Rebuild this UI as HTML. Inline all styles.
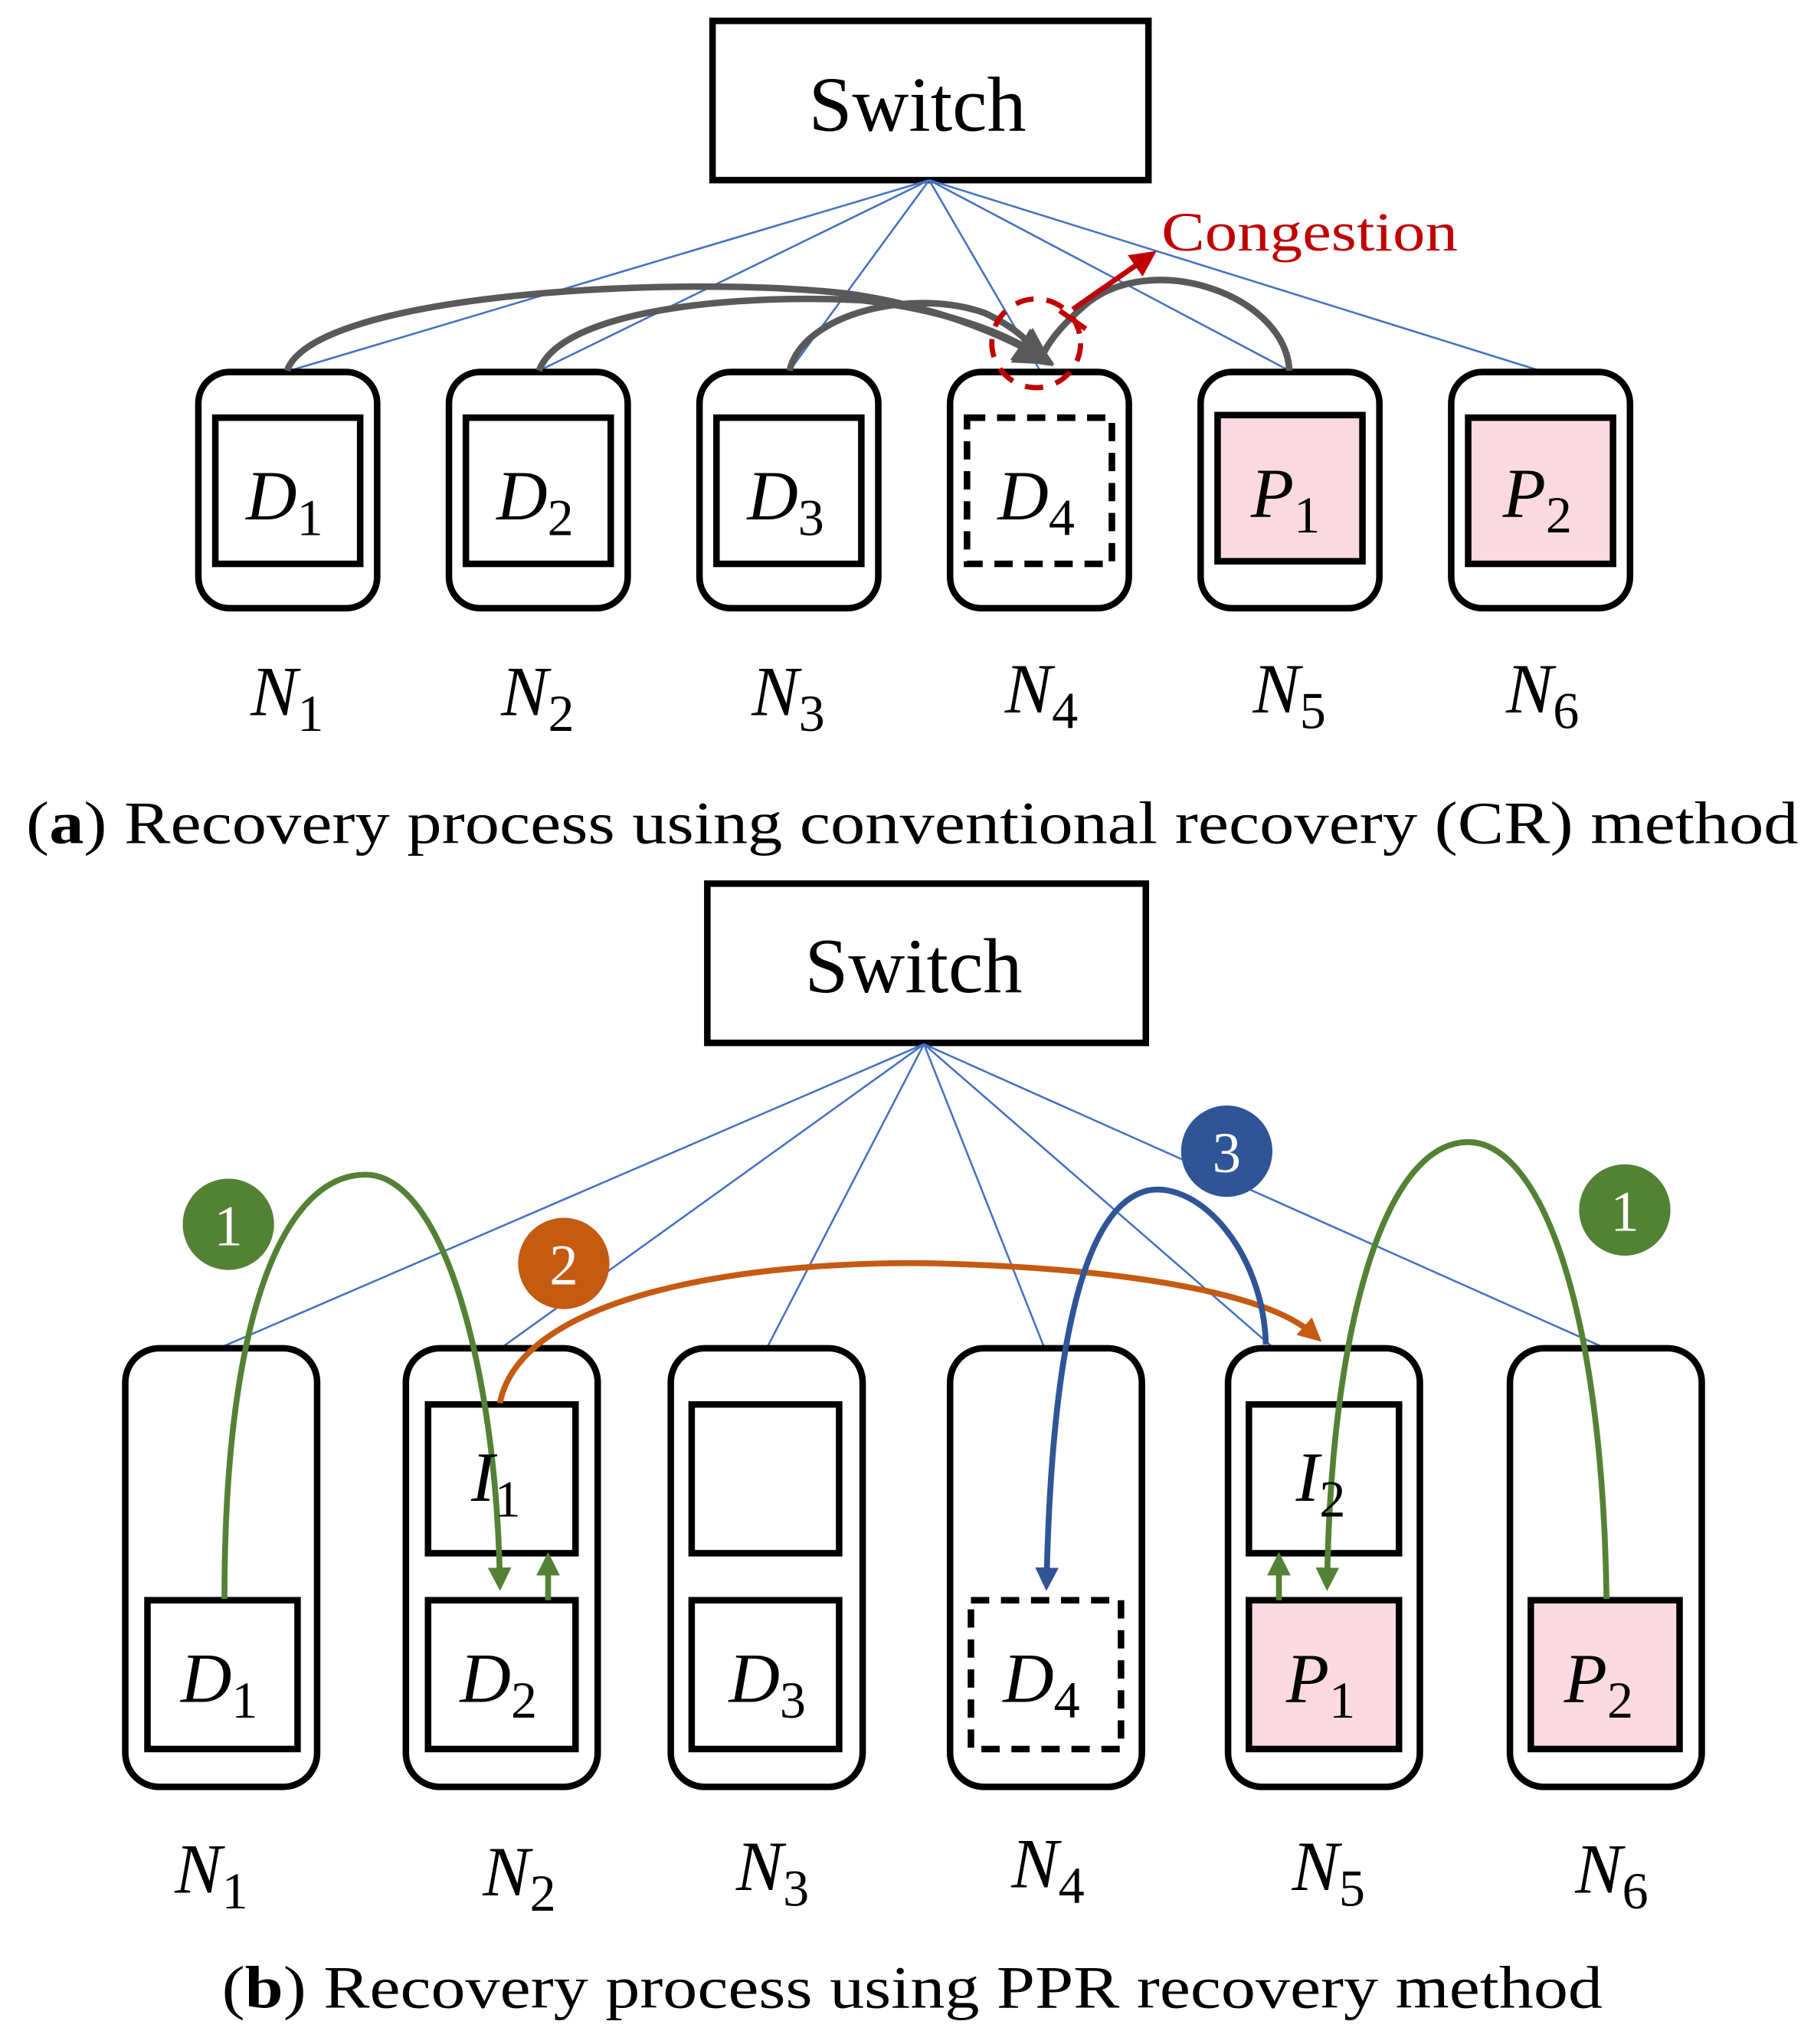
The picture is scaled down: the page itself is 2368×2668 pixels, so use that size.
<!DOCTYPE html>
<html><head><meta charset="utf-8"><style>
html,body{margin:0;padding:0;background:#fff;}
svg{display:block;}
text{font-family:"Liberation Serif",serif;}
.m{font-style:italic;font-size:54px;}
.s{font-style:normal;font-size:40px;}
</style></head><body>
<svg width="2368" height="2668" viewBox="0 0 1390 1566" preserveAspectRatio="none" xmlns="http://www.w3.org/2000/svg">
<defs>
<marker id="ag" markerWidth="6" markerHeight="6" refX="3" refY="3" orient="auto" markerUnits="strokeWidth"><path d="M0,0 L6,3 L0,6 Z" fill="#595959"/></marker>
<marker id="ar" markerWidth="5" markerHeight="5" refX="2.5" refY="2.5" orient="auto" markerUnits="strokeWidth"><path d="M0,0 L5,2.5 L0,5 Z" fill="#c00000"/></marker>
<marker id="agr" markerWidth="4" markerHeight="4" refX="2" refY="2" orient="auto" markerUnits="strokeWidth"><path d="M0,0 L4,2 L0,4 Z" fill="#548235"/></marker>
<marker id="aor" markerWidth="4" markerHeight="4" refX="2" refY="2" orient="auto" markerUnits="strokeWidth"><path d="M0,0 L4,2 L0,4 Z" fill="#c55a11"/></marker>
<marker id="abl" markerWidth="4" markerHeight="4" refX="2" refY="2" orient="auto" markerUnits="strokeWidth"><path d="M0,0 L4,2 L0,4 Z" fill="#2f5597"/></marker>
</defs>

<!-- TOP -->
<rect x="546" y="16" width="334" height="122" fill="#fff" stroke="#000" stroke-width="5"/>
<text x="703" y="100" text-anchor="middle" font-size="60">Switch</text>
<g stroke="#4472c4" stroke-width="1.5">
<line x1="712" y1="138" x2="222" y2="284"/><line x1="712" y1="138" x2="413" y2="284"/>
<line x1="712" y1="138" x2="605" y2="284"/><line x1="712" y1="138" x2="797" y2="284"/>
<line x1="712" y1="138" x2="988" y2="284"/><line x1="712" y1="138" x2="1180" y2="284"/>
</g>
<g fill="#fff" stroke="#000" stroke-width="5">
<rect x="152" y="285" width="137" height="181" rx="24"/>
<rect x="344" y="285" width="137" height="181" rx="24"/>
<rect x="536" y="285" width="137" height="181" rx="24"/>
<rect x="728" y="285" width="137" height="181" rx="24"/>
<rect x="920" y="285" width="137" height="181" rx="24"/>
<rect x="1112" y="285" width="137" height="181" rx="24"/>
<rect x="165" y="320" width="111" height="112"/>
<rect x="357" y="320" width="111" height="112"/>
<rect x="549" y="320" width="111" height="112"/>
<rect x="741" y="320" width="111" height="112" stroke-dasharray="14 9"/>
<rect x="933" y="318" width="111" height="112" fill="#fad9e0"/>
<rect x="1125" y="320" width="111" height="112" fill="#fad9e0"/>
</g>
<g fill="none" stroke="#595959" stroke-width="5">
<path d="M220,284 C240,225 520,210 650,225 C720,235 770,258 795,272" marker-end="url(#ag)"/>
<path d="M413,284 C430,238 560,225 660,230 C730,238 775,258 795,272" marker-end="url(#ag)"/>
<path d="M605,284 C615,240 700,220 755,240 C780,252 790,263 795,272"/>
<path d="M988,284 C985,225 880,190 830,235 C815,248 805,260 800,270"/>
</g>
<circle cx="794" cy="263" r="34" fill="none" stroke="#c00000" stroke-width="4" stroke-dasharray="14 10"/>
<line x1="822" y1="237" x2="878" y2="198" stroke="#c00000" stroke-width="4" marker-end="url(#ar)"/>
<line x1="812" y1="238" x2="832" y2="252" stroke="#c00000" stroke-width="4"/>
<text x="890" y="192" font-size="42" fill="#c00000" textLength="227" lengthAdjust="spacingAndGlyphs">Congestion</text>
<g class="m" text-anchor="middle">
<text x="218" y="398">D<tspan class="s" dy="12">1</tspan></text>
<text x="410" y="398">D<tspan class="s" dy="12">2</tspan></text>
<text x="602" y="398">D<tspan class="s" dy="12">3</tspan></text>
<text x="794" y="398">D<tspan class="s" dy="12">4</tspan></text>
<text x="985" y="396">P<tspan class="s" dy="12">1</tspan></text>
<text x="1178" y="396">P<tspan class="s" dy="12">2</tspan></text>
<text x="220" y="548">N<tspan class="s" dy="12">1</tspan></text>
<text x="412" y="548">N<tspan class="s" dy="12">2</tspan></text>
<text x="604" y="548">N<tspan class="s" dy="12">3</tspan></text>
<text x="798" y="546">N<tspan class="s" dy="12">4</tspan></text>
<text x="988" y="546">N<tspan class="s" dy="12">5</tspan></text>
<text x="1182" y="546">N<tspan class="s" dy="12">6</tspan></text>
</g>
<text x="20" y="646" font-size="46" textLength="1358" lengthAdjust="spacingAndGlyphs">(<tspan font-weight="bold">a</tspan>) Recovery process using conventional recovery (CR) method</text>

<!-- BOTTOM -->
<rect x="542" y="677" width="336" height="122" fill="#fff" stroke="#000" stroke-width="5"/>
<text x="700" y="760" text-anchor="middle" font-size="60">Switch</text>
<g stroke="#4472c4" stroke-width="1.5">
<line x1="708" y1="800" x2="170" y2="1032"/><line x1="708" y1="800" x2="385" y2="1032"/>
<line x1="708" y1="800" x2="588" y2="1032"/><line x1="708" y1="800" x2="800" y2="1032"/>
<line x1="708" y1="800" x2="975" y2="1032"/><line x1="708" y1="800" x2="1228" y2="1032"/>
</g>
<g fill="#fff" stroke="#000" stroke-width="5">
<rect x="96" y="1033" width="147" height="336" rx="26"/>
<rect x="311" y="1033" width="147" height="336" rx="26"/>
<rect x="514" y="1033" width="147" height="336" rx="26"/>
<rect x="728" y="1033" width="147" height="336" rx="26"/>
<rect x="941" y="1033" width="147" height="336" rx="26"/>
<rect x="1157" y="1033" width="147" height="336" rx="26"/>
<rect x="113" y="1226" width="115" height="114"/>
<rect x="328" y="1076" width="113" height="114"/>
<rect x="328" y="1226" width="113" height="114"/>
<rect x="530" y="1076" width="113" height="114"/>
<rect x="530" y="1226" width="113" height="114"/>
<rect x="744" y="1226" width="115" height="114" stroke-dasharray="14 9"/>
<rect x="957" y="1076" width="115" height="114"/>
<rect x="957" y="1226" width="115" height="114" fill="#fad9e0"/>
<rect x="1173" y="1226" width="114" height="114" fill="#fad9e0"/>
</g>
<g fill="none" stroke-width="4.5">
<path d="M172,1225 C172,1000 220,900 280,900 C340,900 380,1050 383,1210" stroke="#548235" marker-end="url(#agr)"/>
<path d="M1231,1225 C1228,1000 1180,875 1125,875 C1060,875 1020,1020 1017,1210" stroke="#548235" marker-end="url(#agr)"/>
<path d="M383,1075 C400,990 580,965 720,968 C860,972 970,990 1006,1022" stroke="#c55a11" marker-end="url(#aor)"/>
<path d="M970,1030 C968,960 920,905 880,912 C820,925 805,1080 802,1210" stroke="#2f5597" marker-end="url(#abl)"/>
<line x1="420" y1="1226" x2="420" y2="1198" stroke="#548235" marker-end="url(#agr)"/>
<line x1="980" y1="1226" x2="980" y2="1198" stroke="#548235" marker-end="url(#agr)"/>
</g>
<g font-size="44" fill="#fff" text-anchor="middle">
<circle cx="175" cy="938" r="35" fill="#548235"/><text x="175" y="954">1</text>
<circle cx="432" cy="968" r="35" fill="#c55a11"/><text x="432" y="984">2</text>
<circle cx="940" cy="882" r="35" fill="#2f5597"/><text x="940" y="898">3</text>
<circle cx="1245" cy="927" r="35" fill="#548235"/><text x="1245" y="943">1</text>
</g>
<g class="m" text-anchor="middle">
<text x="168" y="1304">D<tspan class="s" dy="12">1</tspan></text>
<text x="382" y="1304">D<tspan class="s" dy="12">2</tspan></text>
<text x="588" y="1304">D<tspan class="s" dy="12">3</tspan></text>
<text x="798" y="1304">D<tspan class="s" dy="12">4</tspan></text>
<text x="1012" y="1304">P<tspan class="s" dy="12">1</tspan></text>
<text x="1225" y="1304">P<tspan class="s" dy="12">2</tspan></text>
<text x="380" y="1150">I<tspan class="s" dy="12">1</tspan></text>
<text x="1012" y="1150">I<tspan class="s" dy="12">2</tspan></text>
<text x="162" y="1450">N<tspan class="s" dy="12">1</tspan></text>
<text x="398" y="1452">N<tspan class="s" dy="12">2</tspan></text>
<text x="592" y="1448">N<tspan class="s" dy="12">3</tspan></text>
<text x="803" y="1446">N<tspan class="s" dy="12">4</tspan></text>
<text x="1018" y="1448">N<tspan class="s" dy="12">5</tspan></text>
<text x="1235" y="1450">N<tspan class="s" dy="12">6</tspan></text>
</g>
<text x="170" y="1538" font-size="46" textLength="1058" lengthAdjust="spacingAndGlyphs">(<tspan font-weight="bold">b</tspan>) Recovery process using PPR recovery method</text>
</svg>
</body></html>
